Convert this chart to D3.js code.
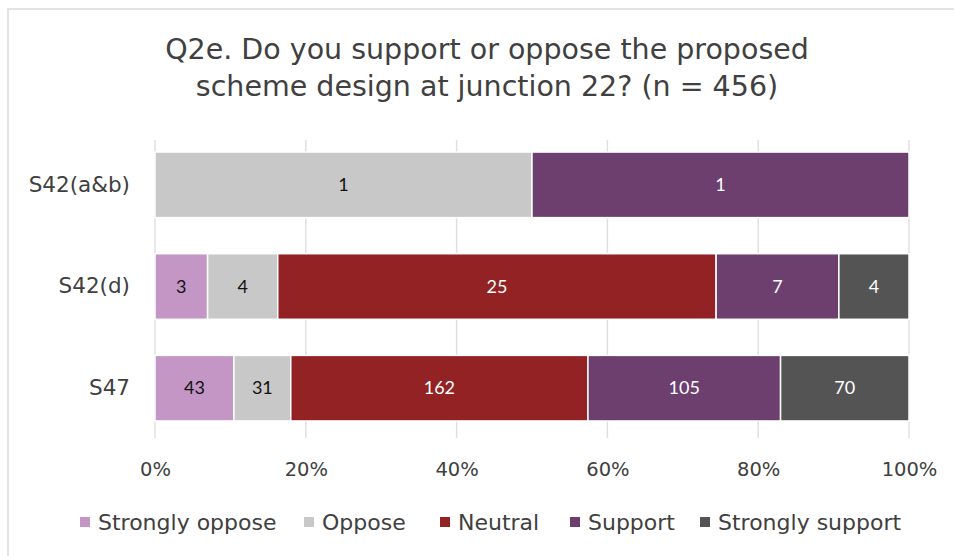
<!DOCTYPE html>
<html>
<head>
<meta charset="utf-8">
<script src="https://cdn.jsdelivr.net/npm/d3@7"></script>
<style>
  html, body { margin: 0; padding: 0; background: #fff; }
  svg { display: block; }
</style>
</head>
<body>
<svg id="chart" width="954" height="556"></svg>
<script>
// Responses per scheme section, by answer
const categories = ["S42(a&b)", "S42(d)", "S47"];
const seriesNames = ["Strongly oppose", "Oppose", "Neutral", "Support", "Strongly support"];
const stronglyOppose = [0, 3, 43];
const oppose = [1, 4, 31];
const neutral = [0, 25, 162];
const support = [1, 7, 105];
const stronglySupport = [0, 4, 70];
const tickLabels = ["0%", "20%", "40%", "60%", "80%", "100%"];
const titleLines = ["Q2e. Do you support or oppose the proposed", "scheme design at junction 22? (n = 456)"];

const colors = ["#c396c5", "#c8c8c8", "#922224", "#6d3f6f", "#545454"];
const labelColors = ["#111", "#111", "#fff", "#fff", "#fff"];

const seriesValues = [stronglyOppose, oppose, neutral, support, stronglySupport];
const rows = categories.map((c, i) => {
  const r = { cat: c };
  seriesNames.forEach((s, j) => r[s] = seriesValues[j][i]);
  return r;
});

const stack = d3.stack().keys(seriesNames).offset(d3.stackOffsetExpand);
const layers = stack(rows);

const svg = d3.select("#chart");
const textFont = "'DejaVu Sans', sans-serif";
const numFont = "Lato, 'Open Sans', sans-serif";
const textColor = "#404040";

// outer frame
svg.append("rect")
  .attr("x", 8).attr("y", 9).attr("width", 960).attr("height", 560)
  .attr("fill", "#fff").attr("stroke", "#e3e3e3").attr("stroke-width", 2);

const x = d3.scaleLinear().domain([0, 1]).range([155, 909]);
const y = d3.scaleBand().domain(categories).range([134, 439]).paddingInner(0.355).paddingOuter(0.1775);

// vertical gridlines
const ticks = d3.range(0, 1.0001, 0.2);
svg.append("g").selectAll("line").data(ticks).join("line")
  .attr("x1", d => x(d)).attr("x2", d => x(d))
  .attr("y1", 140).attr("y2", 438)
  .attr("stroke", "#e0e0e0").attr("stroke-width", 1.5);

// x axis tick labels
const xAxis = d3.axisBottom(x).tickValues(ticks).tickFormat((d, i) => tickLabels[i]).tickSize(0).tickPadding(0);
const gx = svg.append("g").attr("transform", "translate(0,462)").call(xAxis);
gx.select(".domain").remove();
gx.selectAll("text")
  .attr("font-family", textFont).attr("font-size", 19.5).attr("fill", textColor)
  .attr("dy", "0.71em");

// category labels
const yAxis = d3.axisLeft(y).tickSize(0).tickPadding(0);
const gy = svg.append("g").attr("transform", "translate(130,0)").call(yAxis);
gy.select(".domain").remove();
gy.selectAll("text")
  .attr("font-family", textFont).attr("font-size", 21.5).attr("fill", textColor);

// stacked bars
const gBars = svg.append("g");
layers.forEach((layer, j) => {
  const g = gBars.append("g");
  layer.forEach((seg, i) => {
    const v = seriesValues[j][i];
    if (!v) return;
    g.append("rect")
      .attr("x", x(seg[0])).attr("width", x(seg[1]) - x(seg[0]))
      .attr("y", y(categories[i])).attr("height", y.bandwidth())
      .attr("fill", colors[j]).attr("stroke", "#fff").attr("stroke-width", 1.5);
    g.append("text")
      .attr("x", (x(seg[0]) + x(seg[1])) / 2)
      .attr("y", y(categories[i]) + y.bandwidth() / 2)
      .attr("text-anchor", "middle").attr("dy", "0.35em")
      .attr("font-family", numFont).attr("font-size", 18)
      .attr("fill", labelColors[j])
      .text(v);
  });
});

// title
svg.append("g").selectAll("text").data(titleLines).join("text")
  .attr("x", 487).attr("y", (d, i) => 59 + i * 37)
  .attr("text-anchor", "middle")
  .attr("font-family", textFont).attr("font-size", 28.5).attr("fill", textColor)
  .text(d => d);

// legend
const legendX = [80, 304, 440, 570, 700];
const lg = svg.append("g");
seriesNames.forEach((s, j) => {
  lg.append("rect").attr("x", legendX[j]).attr("y", 517).attr("width", 10).attr("height", 10).attr("fill", colors[j]);
  lg.append("text").attr("x", legendX[j] + 18).attr("y", 530)
    .attr("font-family", textFont).attr("font-size", 22).attr("fill", textColor)
    .text(s);
});
</script>
</body>
</html>
